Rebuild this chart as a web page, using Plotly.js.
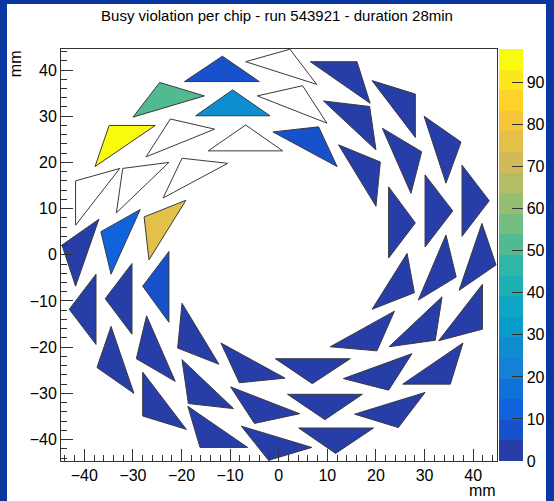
<!DOCTYPE html>
<html><head><meta charset="utf-8">
<script src="https://cdn.plot.ly/plotly-3.0.1.min.js"></script>
<style>
html,body{margin:0;padding:0;background:#0a37a0;width:554px;height:501px;overflow:hidden}
#bg{position:absolute;left:7px;top:4px;width:539px;height:497px;background:#fff}
#chart{position:absolute;left:0;top:0;width:554px;height:501px}
</style></head><body><div id="bg"></div><div id="chart"></div>
<script>
// chip triangles: vertex x (mm), vertex y (mm), busy violation count
const triX = [
 [-24.5,-15.3,-30.0],[-34.9,-25.4,-37.8],[-22.3,-13.2,-27.3],[-41.8,-32.7,-41.8],
 [-32.1,-22.6,-33.4],[-19.9,-10.5,-23.8],[-44.6,-37.0,-41.8],[-36.6,-28.5,-34.5],
 [-27.7,-19.1,-26.7],[-22.6,-22.6,-28.0],[-37.6,-37.6,-43.1],[-30.2,-30.2,-35.7],
 [-34.5,-29.8,-37.4],[-27.2,-21.3,-29.3],[-28.0,-19.0,-28.0],[-19.9,-12.3,-20.8],
 [-19.9,-9.3,-18.6],[-18.7,-6.4,-16.2],[-11.9,1.3,-8.1],[-9.9,4.3,-5.0],
 [-7.7,6.8,-2.1],[-0.7,14.7,6.9],[1.8,17.2,9.5],[4.1,19.5,11.7],
 [10.6,23.8,20.2],[13.3,27.4,22.6],[15.6,30.1,24.6],[22.7,33.6,32.2],
 [25.5,37.9,35.3],[32.9,41.9,41.9],[19.2,26.4,27.9],[28.7,34.4,36.5],
 [41.8,44.7,37.1],[22.6,28.1,22.6],[30.1,35.8,30.1],[37.7,43.3,37.7],
 [29.9,37.5,34.4],[21.3,29.4,27.2],[12.3,20.9,20.0],[19.2,28.1,28.1],
 [9.2,18.7,20.0],[6.5,16.1,18.8],[-1.2,8.2,12.0],[-6.8,2.3,7.8],
 [-4.4,4.9,9.9],[-19.4,-11.6,-4.0],[-17.1,-9.5,-1.8],[-14.5,-6.8,0.8]
];
const triY = [
 [37.3,34.4,29.8],[28.0,28.0,19.1],[29.4,27.2,21.2],[16.0,18.7,6.4],
 [18.7,20.0,9.1],[20.9,19.8,12.3],[2.1,7.7,-6.8],[5.0,9.8,-4.2],
 [8.2,11.8,-1.1],[0.7,-14.6,-6.8],[-4.2,-19.4,-11.8],[-1.9,-17.2,-9.5],
 [-15.5,-30.0,-24.4],[-13.2,-27.4,-22.5],[-25.4,-37.8,-34.9],[-10.5,-23.7,-20.2],
 [-22.7,-33.3,-32.2],[-32.8,-41.7,-41.7],[-19.1,-26.7,-27.7],[-28.6,-34.4,-36.5],
 [-37.1,-41.7,-44.5],[-22.5,-22.5,-27.9],[-30.2,-30.2,-35.7],[-37.5,-37.5,-43.0],
 [-19.9,-12.2,-20.8],[-26.8,-21.4,-29.3],[-34.5,-29.8,-37.4],[-19.9,-9.1,-18.5],
 [-28.0,-19.1,-28.0],[-18.6,-6.4,-16.1],[-11.8,0.3,-8.2],[-9.8,4.3,-4.8],
 [6.8,-2.2,-7.7],[14.7,6.9,-0.7],[17.3,9.5,1.7],[19.4,11.7,4.0],
 [30.0,24.4,15.5],[27.4,22.3,13.3],[23.8,20.1,10.5],[37.7,34.8,25.4],
 [33.3,32.1,22.7],[41.8,41.8,32.8],[26.6,27.7,19.1],[41.8,44.5,36.9],
 [34.4,36.6,28.5],[37.5,43.0,37.5],[30.1,35.7,30.1],[22.5,28.1,22.5]
];
const busy = [
 51,98,0,0, 0,0,2,13, 76,8,2,2, 2,2,2,2, 2,2,2,2, 2,2,2,2,
 2,2,2,2, 2,2,2,2, 2,2,2,2, 2,2,2,2, 2,2,7,0, 0,7,27,0
];
const zMin = 0, zMax = 98, nBands = 20;
const cbTicks = [0,10,20,30,40,50,60,70,80,90];

// kBird palette
const st=[0,0.125,0.25,0.375,0.5,0.625,0.75,0.875,1];
const rr=[0.2082,0.0592,0.0780,0.0232,0.1802,0.5301,0.8186,0.9956,0.9764];
const gg=[0.1664,0.3599,0.5041,0.6419,0.7178,0.7492,0.7328,0.7862,0.9832];
const bb=[0.5293,0.8684,0.8385,0.7914,0.6425,0.4662,0.3499,0.1968,0.0539];
function bird(t){
  let k=0; while(k<st.length-2 && t>st[k+1]) k++;
  const f=(t-st[k])/(st[k+1]-st[k]);
  const c=a=>Math.round(255*(a[k]+(a[k+1]-a[k])*f));
  return 'rgb('+c(rr)+','+c(gg)+','+c(bb)+')';
}
const bandColor=[];
for(let i=0;i<nBands;i++){ bandColor.push(bird(Math.floor((i+0.99)*255/nBands)/254)); }
const cscale=[];
for(let i=0;i<nBands;i++){ cscale.push([i/nBands,bandColor[i]]); cscale.push([(i+1)/nBands,bandColor[i]]); }
function colorOf(v){ let b=Math.floor((v-zMin)/(zMax-zMin)*nBands); if(b>=nBands)b=nBands-1; if(b<0)b=0; return bandColor[b]; }

const traces=[];
for(let i=0;i<triX.length;i++){
  const v=busy[i];
  traces.push({type:'scatter',mode:'lines',
    x:[...triX[i],triX[i][0]], y:[...triY[i],triY[i][0]],
    fill:'toself', fillcolor: v>0?colorOf(v):'rgba(255,255,255,0)',
    line:{color:'#3a3a3a',width:1}, hoverinfo:'skip', showlegend:false});
}
traces.push({type:'scatter',mode:'markers',x:[null],y:[null],showlegend:false,hoverinfo:'skip',
  marker:{color:[zMin],cmin:zMin,cmax:zMax,colorscale:cscale,showscale:true,
   colorbar:{x:1.0046,xanchor:'left',xpad:0,ypad:0,y:0.5,yanchor:'middle',len:1,lenmode:'fraction',
     thickness:24,thicknessmode:'pixels',outlinewidth:0,tickvals:cbTicks,ticks:'inside',ticklen:11,
     tickcolor:'#333',tickfont:{size:16,color:'#000'}}}});

const axisCommon={showgrid:false,zeroline:false,ticks:'inside',ticklen:12,tickcolor:'#333',
  dtick:10,tick0:0,showline:true,mirror:true,linecolor:'#333',linewidth:1,
  minor:{dtick:2,ticks:'inside',ticklen:6,tickcolor:'#333',showgrid:false},tickfont:{size:16,color:'#000'}};

const layout={width:554,height:501,margin:{l:61,r:57,t:49,b:40,autoexpand:false},
  paper_bgcolor:'rgba(0,0,0,0)',plot_bgcolor:'#fff',showlegend:false,
  font:{family:'Liberation Sans, Arial, sans-serif',size:16,color:'#000'},
  title:{text:'Busy violation per chip - run 543921 - duration 28min',font:{size:15,color:'#000'},
    xref:'container',x:0.5,xanchor:'center',yref:'container',y:1-16/501,yanchor:'middle'},
  xaxis:Object.assign({range:[-44.8,44.9]},axisCommon),
  yaxis:Object.assign({range:[-44.64,44.55]},axisCommon),
  annotations:[
    {text:'mm',xref:'paper',yref:'paper',x:1,y:-0.071,xanchor:'right',yanchor:'middle',borderpad:0,showarrow:false,font:{size:16}},
    {text:'mm',xref:'paper',yref:'paper',x:-0.104,y:1,xanchor:'center',yanchor:'top',textangle:-90,borderpad:0,showarrow:false,font:{size:16}}
  ]};
Plotly.newPlot('chart',traces,layout,{displayModeBar:false,staticPlot:true});
</script></body></html>
